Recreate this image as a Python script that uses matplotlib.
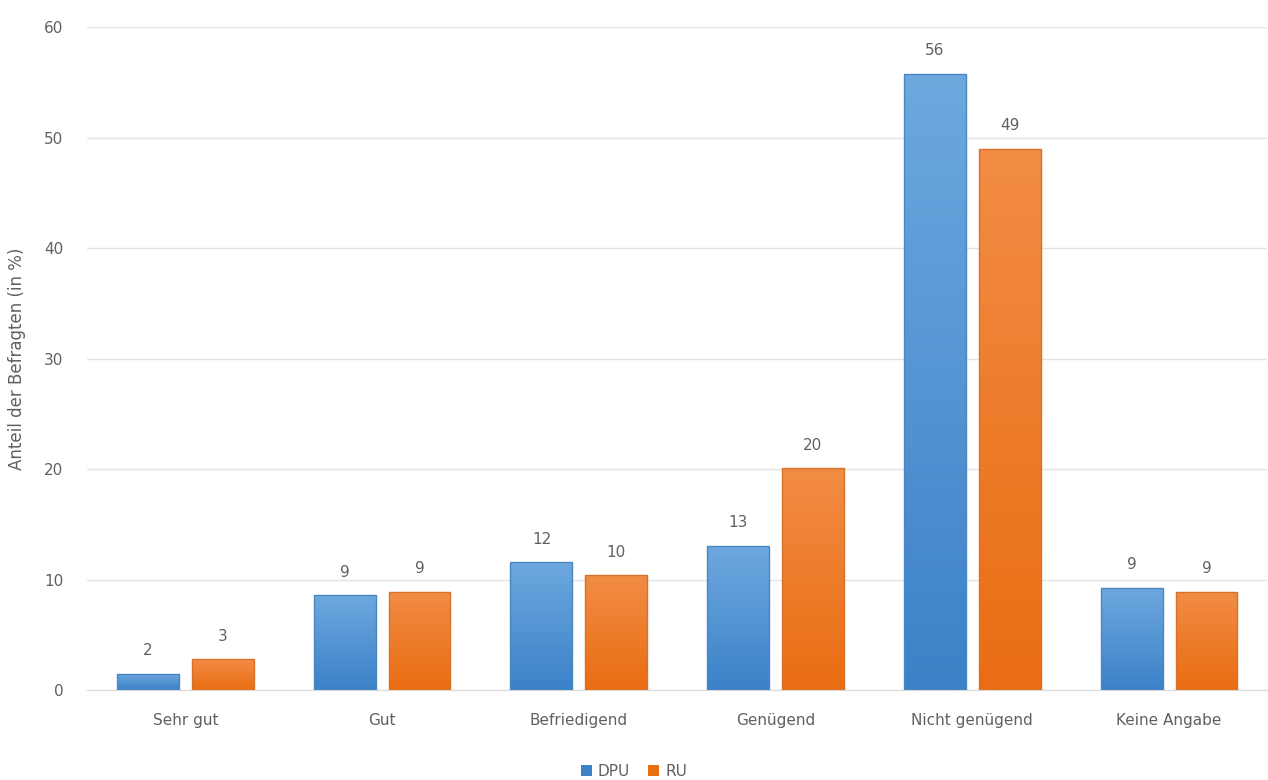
"""Bar chart: Bewertung DPU vs RU (Anteil der Befragten in %)."""

import matplotlib

matplotlib.use("Agg")
import matplotlib.pyplot as plt
import numpy as np
from matplotlib.colors import LinearSegmentedColormap
from matplotlib.patches import Patch

categories = ["Sehr gut", "Gut", "Befriedigend", "Genügend", "Nicht genügend", "Keine Angabe"]
dpu_values = [1.5, 8.6, 11.6, 13.1, 55.8, 9.3]
ru_values = [2.8, 8.9, 10.4, 20.1, 49.0, 8.9]
dpu_labels = ["2", "9", "12", "13", "56", "9"]
ru_labels = ["3", "9", "10", "20", "49", "9"]
series_names = ["DPU", "RU"]

TEXT = "#606060"
GRID = "#e3e3e3"
BLUE_TOP, BLUE_BOTTOM, BLUE_EDGE = "#6ea8df", "#3b82c8", "#4a86c0"
ORANGE_TOP, ORANGE_BOTTOM, ORANGE_EDGE = "#f28c45", "#e96d12", "#d7722a"
FS = 12

plt.rcParams["font.family"] = ["DejaVu Sans"]

fig = plt.figure(figsize=(12.68, 7.8), dpi=100)
ax = fig.add_axes([0.0686, 0.115, 0.931, 0.85])

x = np.arange(len(categories))
offset = 0.19
width = 0.315


def _gradient_bars(ax, xs, heights, top, bottom, edge):
    cmap = LinearSegmentedColormap.from_list("grad", [bottom, top])
    grad = np.linspace(0, 1, 256).reshape(-1, 1)
    bars = ax.bar(xs, heights, width=width, color="none", edgecolor=edge, linewidth=1.0, zorder=3)
    for bar in bars:
        x0, y0 = bar.get_x(), bar.get_y()
        w, h = bar.get_width(), bar.get_height()
        img = ax.imshow(
            grad,
            cmap=cmap,
            origin="lower",
            aspect="auto",
            extent=(x0, x0 + w, y0, y0 + h),
            zorder=2,
        )
        img.set_clip_path(bar)
    return bars


_gradient_bars(ax, x - offset, dpu_values, BLUE_TOP, BLUE_BOTTOM, BLUE_EDGE)
_gradient_bars(ax, x + offset, ru_values, ORANGE_TOP, ORANGE_BOTTOM, ORANGE_EDGE)

for xi, h, lab in zip(x - offset, dpu_values, dpu_labels):
    ax.text(xi, h + 1.4, lab, ha="center", va="bottom", fontsize=FS - 1, color=TEXT)
for xi, h, lab in zip(x + offset, ru_values, ru_labels):
    ax.text(xi, h + 1.4, lab, ha="center", va="bottom", fontsize=FS - 1, color=TEXT)

ax.set_xlim(-0.5, len(categories) - 0.5)
ax.set_ylim(0, 60)
ax.set_yticks(range(0, 61, 10))
ax.set_xticks(x)
ax.set_xticklabels(categories)
ax.tick_params(axis="both", length=0, labelsize=FS - 1, colors=TEXT)
ax.tick_params(axis="x", pad=16)
ax.tick_params(axis="y", pad=17)
ax.yaxis.grid(True, color=GRID, linewidth=1.0, zorder=0)
ax.set_axisbelow(True)
for side in ("top", "right", "left"):
    ax.spines[side].set_visible(False)
ax.spines["bottom"].set_color("#d9d9d9")
ax.set_ylabel("Anteil der Befragten (in %)", fontsize=FS, color=TEXT, labelpad=10)
ax.yaxis.set_label_coords(-0.052, 0.5)

handles = [
    Patch(facecolor=BLUE_BOTTOM, edgecolor="none", label=series_names[0]),
    Patch(facecolor=ORANGE_BOTTOM, edgecolor="none", label=series_names[1]),
]
fig.legend(
    handles=handles,
    loc="lower center",
    bbox_to_anchor=(0.5, -0.016),
    ncol=2,
    frameon=False,
    fontsize=FS - 1,
    labelcolor=TEXT,
    handlelength=0.7,
    handleheight=0.7,
    handletextpad=0.4,
    columnspacing=1.2,
)

fig.savefig("out.png", dpi=100)
